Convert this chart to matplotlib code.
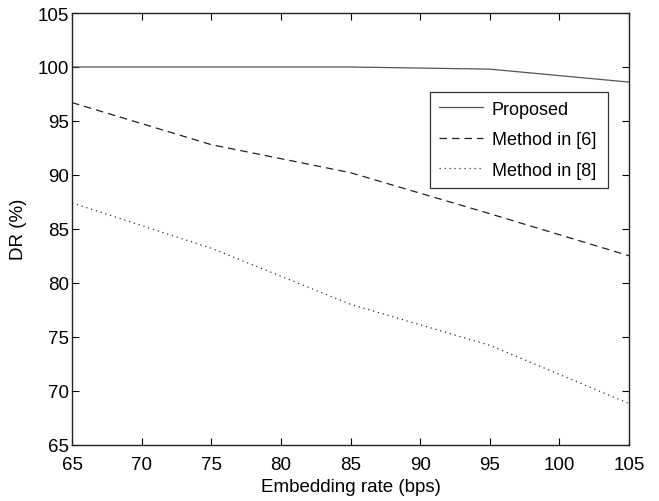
import matplotlib
matplotlib.use("Agg")
import matplotlib.pyplot as plt

rates = [65, 75, 85, 95, 105]
proposed = [100.0, 100.0, 100.0, 99.8, 98.6]
method6 = [96.7, 92.8, 90.2, 86.4, 82.5]
method8 = [87.4, 83.2, 78.0, 74.2, 68.8]
labels = ["Proposed", "Method in [6]", "Method in [8]"]
xticks = [65, 70, 75, 80, 85, 90, 95, 100, 105]
yticks = [65, 70, 75, 80, 85, 90, 95, 100, 105]

plt.rcParams['font.family'] = ['Liberation Sans', 'DejaVu Sans']

fig = plt.figure(figsize=(6.59, 5.02), dpi=100)
ax = fig.add_axes([0.1093, 0.1125, 0.8452, 0.8595])

ax.plot(rates, proposed, '-', color='#555555', lw=0.9, label=labels[0])
ax.plot(rates, method6, '--', color='#222222', lw=0.9, dashes=(6, 4), label=labels[1])
ax.plot(rates, method8, ':', color='#333333', lw=0.9, dashes=(1, 3), label=labels[2])

ax.set_xlim(65, 105)
ax.set_ylim(65, 105)
ax.set_xticks(xticks)
ax.set_yticks(yticks)
ax.tick_params(direction='in', length=5, width=0.8, top=True, right=True, labelsize=13.5)
ax.tick_params(axis='x', pad=8)
ax.tick_params(axis='y', pad=2)
for s in ax.spines.values():
    s.set_linewidth(1.0)
    s.set_color('#222222')

ax.set_xlabel("Embedding rate (bps)", fontsize=13.5, labelpad=4)
ax.set_ylabel("DR (%)", fontsize=13.5, labelpad=8)

leg = ax.legend(loc='upper left', bbox_to_anchor=(0.643, 0.818, 0.32, 0.0), mode='expand',
                fontsize=13, frameon=True, fancybox=False, edgecolor='black',
                handlelength=2.4, handletextpad=0.5, borderpad=0.5, labelspacing=0.75,
                borderaxespad=0)
leg.get_frame().set_linewidth(0.9)

fig.savefig("out.png", dpi=100)
